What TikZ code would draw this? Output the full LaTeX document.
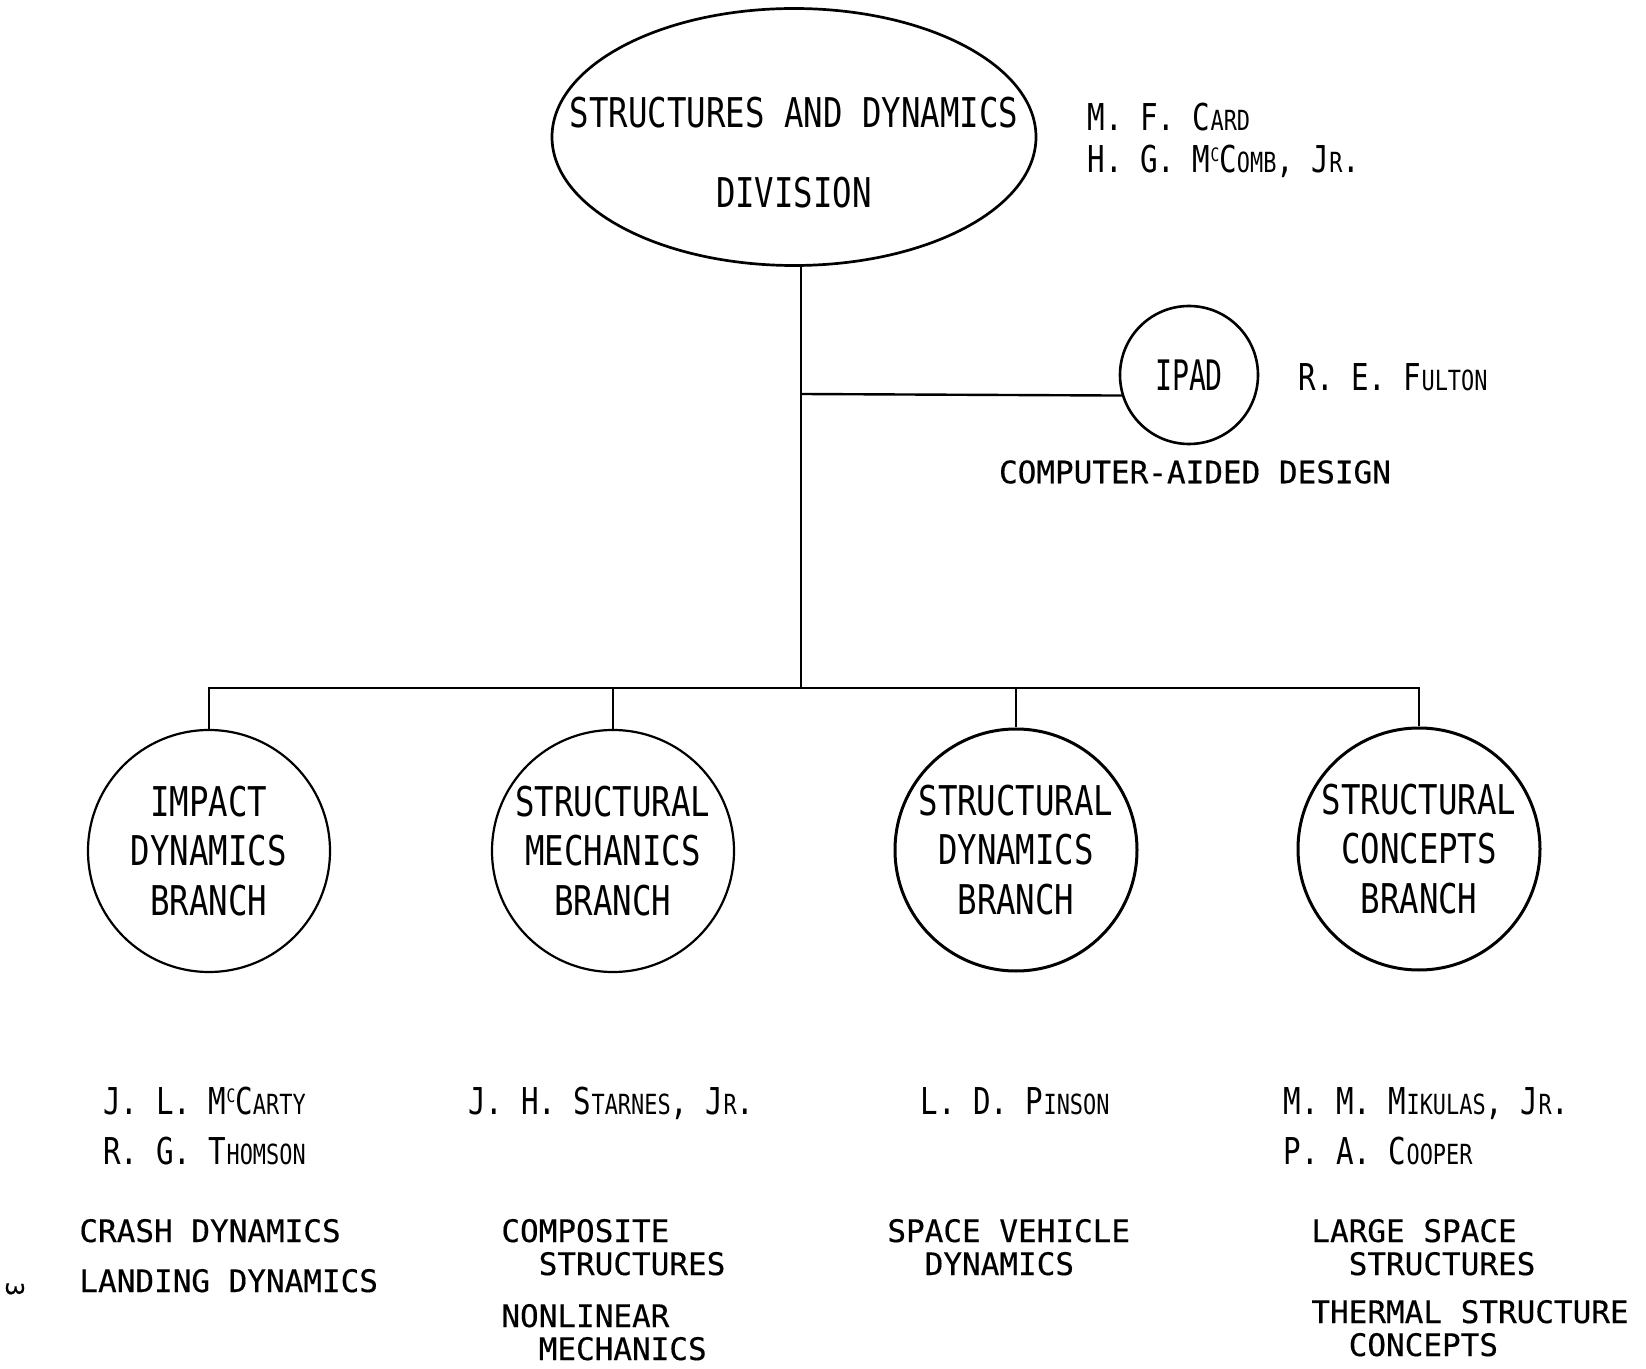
\documentclass[tikz,border=0pt]{standalone}
\usepackage{fontspec}
\usepackage{graphicx}
\usepackage{tikz}
\usetikzlibrary{shapes.geometric}
\newfontfamily\letterfont[FakeStretch=0.79]{DejaVu Sans Mono}
\newfontfamily\typefont[FakeBold=0.4]{DejaVu Sans Mono}
\tikzset{
  division/.style={draw, ellipse, line width=1.35pt, minimum width=242pt, minimum height=128.5pt, inner sep=0pt},
  title/.style={align=center, inner sep=0pt, font=\letterfont\fontsize{20.5}{40}\selectfont},
  office/.style={draw, circle, line width=1.3pt, minimum size=69pt, inner sep=0pt,
    font=\letterfont\fontsize{21}{21}\selectfont},
  branch/.style={draw, circle, line width=1.1pt, minimum size=121pt, inner sep=0pt,
    align=center, font=\letterfont\fontsize{20.5}{24.75}\selectfont},
  person/.style={anchor=base west, align=left, inner sep=0pt, font=\letterfont\fontsize{18.5}{25}\selectfont},
  field/.style={anchor=base west, align=left, inner sep=0pt, font=\typefont\fontsize{15.5}{16.5}\selectfont},
  link/.style={line width=1.2pt},
  }
\newcommand{\smc}[1]{\scalebox{0.75}{#1}}
\newcommand{\mcc}{M\raisebox{0.3em}{\scalebox{0.5}{C}}}

\begin{document}
\begin{tikzpicture}[x=0.5pt,y=-0.5pt]
            \useasboundingbox (0,0) rectangle (1646,1369);

            % Units
            \node[division] (div) at (794,137) {};
            \node[title] (divtitle) at (794,153) {STRUCTURES AND DYNAMICS\\DIVISION};
            \node[office] (ipad) at (1189,375) {\scalebox{0.85}[1]{IPAD}};
            \node[branch] (impact) at (209,851) {IMPACT\\DYNAMICS\\BRANCH};
            \node[branch] (mechanics) at (613,851) {STRUCTURAL\\MECHANICS\\BRANCH};
            \node[branch, line width=1.5pt] (dynamics) at (1016,850) {STRUCTURAL\\DYNAMICS\\BRANCH};
            \node[branch, line width=1.5pt] (concepts) at (1419,849) {STRUCTURAL\\CONCEPTS\\BRANCH};

            % Lines
            \coordinate (bus) at (801,688);
            \coordinate (tee) at (801,394);
            \draw[link] (bus |- div.south) -- (bus);
            \draw[link] (tee) -- (ipad.197);
            \foreach \b in {impact,mechanics,dynamics,concepts}
                \draw[link] (bus) -| (\b);

            % Heads (two-line nodes sit on their last line)
            \node[person, font=\letterfont\fontsize{18.5}{21}\selectfont] (card) at (1087,173) {M. F. C\smc{ARD}\\H. G. \mcc C\smc{OMB}, J\smc{R}.};
            \node[person] (fulton) at (1298,391) {R. E. F\smc{ULTON}};
            \node[person] (mccarty) at (103,1164) {J. L. \mcc C\smc{ARTY}\\R. G. T\smc{HOMSON}};
            \node[person] (starnes) at (468,1114) {J. H. S\smc{TARNES}, J\smc{R}.};
            \node[person] (pinson) at (920,1114) {L. D. P\smc{INSON}};
            \node[person] (mikulas) at (1283,1164) {M. M. M\smc{IKULAS}, J\smc{R}.\\P. A. C\smc{OOPER}};

            % Fields
            \node[field, anchor=center] (cad) at (1195,472) {COMPUTER-AIDED DESIGN};
            \node[field] (crash) at (79,1242) {CRASH DYNAMICS};
            \node[field] (landing) at (79,1292) {LANDING DYNAMICS};
            \node[field] (composite) at (501,1275) {COMPOSITE\\\phantom{XX}STRUCTURES};
            \node[field] (nonlinear) at (501,1360) {NONLINEAR\\\phantom{XX}MECHANICS};
            \node[field] (vehicle) at (887,1275) {SPACE VEHICLE\\\phantom{XX}DYNAMICS};
            \node[field] (large) at (1311,1275) {LARGE SPACE\\\phantom{XX}STRUCTURES};
            \node[field] (thermal) at (1311,1356) {THERMAL STRUCTURE\\\phantom{XX}CONCEPTS};

            % Page
            \node[font=\typefont\fontsize{12}{12}\selectfont, rotate=-90] (page) at (15,1289) {3};
\end{tikzpicture}
\end{document}
